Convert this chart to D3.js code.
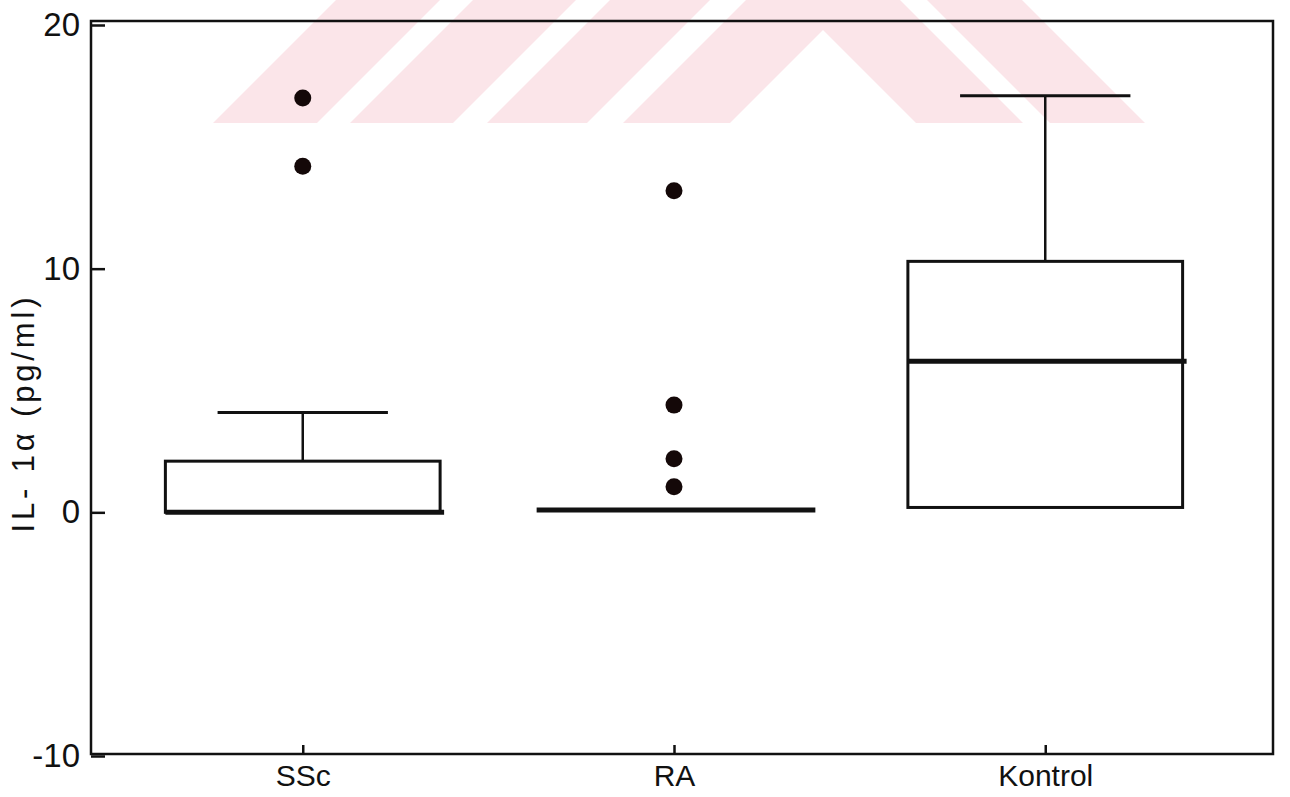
<!DOCTYPE html>
<html>
<head>
<meta charset="utf-8">
<script src="https://cdn.jsdelivr.net/npm/d3@7"></script>
<style>
  body { margin: 0; background: #fff; }
  svg { display: block; }
  text { font-family: "Liberation Sans", "DejaVu Sans", sans-serif; fill: #111; }
</style>
</head>
<body>
<svg id="canvas" width="1290" height="797"></svg>
<script>
// values
const groups = ['SSc', 'RA', 'Kontrol']
const q1 = [0, 0.1, 0.2]
const median = [0, 0.1, 6.2]
const q3 = [2.1, 0.1, 10.3]
const whiskerLow = [0, 0.1, 0.2]
const whiskerHigh = [4.1, 0.1, 17.1]
const outliers = [[17.0, 14.2], [13.2, 4.4, 2.2, 1.05], []]
const yTicks = [-10, 0, 10, 20]
const yLabel = 'IL- 1\u03b1 (pg/ml)'

let canvas = d3.select('#canvas')

let frame = { left: 91, right: 1273, top: 21, bottom: 754 }

let y = d3.scaleLinear().domain([-10, 20]).range([756, 25])
let x = d3.scalePoint().domain(groups).range([80, 1268]).padding(0.6)
let boxW = x.step() * 0.74

// faint pink thesis watermark behind the plot (left "/" stripes, right "\" stripes)
let wmBottom = 123
let wmLeft = [[213, 317], [350, 453], [487, 587], [623, 730]]
let wmRight = [[916, 1023], [1050, 1145]]
let wm = canvas.append('g').attr('class', 'watermark')
wmLeft.forEach(([a, b]) => {
    wm.append('polygon')
        .attr('points', [[a, wmBottom], [b, wmBottom], [b + wmBottom, 0], [a + wmBottom, 0]].join(' '))
        .attr('fill', '#fbe5e9')
})
wmRight.forEach(([a, b]) => {
    wm.append('polygon')
        .attr('points', [[a, wmBottom], [b, wmBottom], [b - wmBottom, 0], [a - wmBottom, 0]].join(' '))
        .attr('fill', '#fbe5e9')
})

// frame
canvas.append('rect')
    .attr('x', frame.left).attr('y', frame.top)
    .attr('width', frame.right - frame.left)
    .attr('height', frame.bottom - frame.top)
    .attr('fill', 'none').attr('stroke', '#111').attr('stroke-width', 2.5)

// y axis
let yAxis = canvas.append('g')
    .attr('transform', 'translate(' + frame.left + ',0)')
    .call(d3.axisLeft(y).tickValues(yTicks).tickFormat((d) => String(d))
        .tickSize(-14).tickSizeOuter(0).tickPadding(11))
yAxis.select('.domain').remove()
yAxis.selectAll('line').attr('stroke', '#111').attr('stroke-width', 2.5)
yAxis.selectAll('text').attr('font-size', 33).attr('fill', '#111')
    .style('font-family', '"Liberation Sans", "DejaVu Sans", sans-serif')

// x axis
let xAxis = canvas.append('g')
    .attr('transform', 'translate(0,' + frame.bottom + ')')
    .call(d3.axisBottom(x).tickSize(-9).tickSizeOuter(0).tickPadding(11))
xAxis.select('.domain').remove()
xAxis.selectAll('line').attr('stroke', '#111').attr('stroke-width', 2.5)
xAxis.selectAll('text').attr('font-size', 30).attr('fill', '#111')
    .style('font-family', '"Liberation Sans", "DejaVu Sans", sans-serif')

// y label
canvas.append('text')
    .attr('transform', 'translate(34,415) rotate(-90)')
    .attr('text-anchor', 'middle')
    .attr('font-size', 31)
    .attr('textLength', 235)
    .attr('lengthAdjust', 'spacing')
    .text(yLabel)

// boxes
let box = canvas.selectAll('.box')
    .data(groups)
    .enter()
    .append('g')
    .attr('class', 'box')

box.each(function (g, i) {
    let el = d3.select(this)
    let cx = x(g)
    // upper whisker
    if (whiskerHigh[i] > q3[i]) {
        el.append('line')
            .attr('x1', cx).attr('x2', cx)
            .attr('y1', y(q3[i])).attr('y2', y(whiskerHigh[i]))
            .attr('stroke', '#111').attr('stroke-width', 2.5)
        el.append('line')
            .attr('x1', cx - boxW * 0.31).attr('x2', cx + boxW * 0.31)
            .attr('y1', y(whiskerHigh[i])).attr('y2', y(whiskerHigh[i]))
            .attr('stroke', '#111').attr('stroke-width', 3)
    }
    if (whiskerLow[i] < q1[i]) {
        el.append('line')
            .attr('x1', cx).attr('x2', cx)
            .attr('y1', y(q1[i])).attr('y2', y(whiskerLow[i]))
            .attr('stroke', '#111').attr('stroke-width', 2.5)
    }
    if (q3[i] > q1[i]) {
        el.append('rect')
            .attr('x', cx - boxW / 2).attr('width', boxW)
            .attr('y', y(q3[i])).attr('height', y(q1[i]) - y(q3[i]))
            .attr('fill', 'none').attr('stroke', '#111').attr('stroke-width', 3)
    }
    // median
    el.append('line')
        .attr('x1', cx - boxW / 2).attr('x2', cx + boxW / 2 + 4)
        .attr('y1', y(median[i])).attr('y2', y(median[i]))
        .attr('stroke', '#111').attr('stroke-width', 5)
    // outliers
    el.selectAll('circle')
        .data(outliers[i])
        .enter()
        .append('circle')
        .attr('cx', cx)
        .attr('cy', (v) => y(v))
        .attr('r', 8.5)
        .attr('fill', '#140808')
})
</script>
</body>
</html>
